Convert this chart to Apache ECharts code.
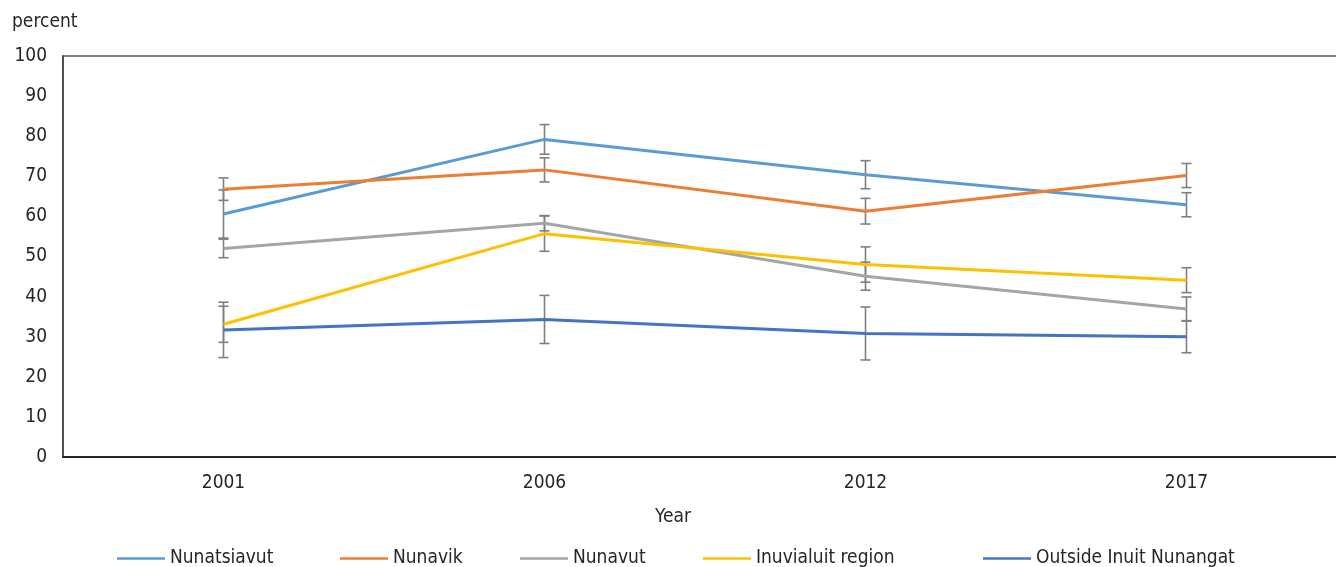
<!DOCTYPE html>
<html>
<head>
<meta charset="utf-8">
<script src="https://cdn.jsdelivr.net/npm/echarts@6/dist/echarts.min.js"></script>
<style>
  html, body { margin: 0; padding: 0; background: #fff; }
  #chart { width: 1336px; height: 567px; }
</style>
</head>
<body>
<div id="chart"></div>
<script>
// chart data
const years = ['2001', '2006', '2012', '2017']
const regionNames = ['Nunatsiavut', 'Nunavik', 'Nunavut', 'Inuvialuit region', 'Outside Inuit Nunangat']
const nunatsiavut = [60.6, 79.2, 70.4, 62.9]
const nunavik = [66.8, 71.6, 61.3, 70.2]
const nunavut = [52.0, 58.3, 45.1, 36.9]
const inuvialuit = [33.1, 55.7, 48.0, 44.1]
const outsideNunangat = [31.7, 34.3, 30.8, 30.0]
// half width of the error bars
const nunatsiavutErr = [6.0, 3.7, 3.5, 3.0]
const nunavikErr = [2.8, 3.0, 3.2, 3.0]
const nunavutErr = [2.3, 1.9, 3.5, 3.0]
const inuvialuitErr = [4.5, 4.4, 4.4, 3.1]
const outsideErr = [6.9, 6.0, 6.6, 4.0]

const colors = ['#5B9BD5', '#ED7D31', '#A5A5A5', '#FFC000', '#4472C4']
const values = [nunatsiavut, nunavik, nunavut, inuvialuit, outsideNunangat]
const errors = [nunatsiavutErr, nunavikErr, nunavutErr, inuvialuitErr, outsideErr]
const font = "'Liberation Sans Narrow', 'DejaVu Sans Condensed', sans-serif"
const textColor = '#262626'

let chartDom = document.getElementById('chart')
let myChart = echarts.init(chartDom)

function errorBar (params, api) {
  let x = api.value(0)
  let lo = api.coord([x, api.value(1)])
  let hi = api.coord([x, api.value(2)])
  let cap = 5
  let style = { stroke: '#7F7F7F', lineWidth: 1.6 }
  return {
    type: 'group',
    children: [
      { type: 'line', shape: { x1: lo[0], y1: lo[1], x2: hi[0], y2: hi[1] }, style: style },
      { type: 'line', shape: { x1: lo[0] - cap, y1: lo[1], x2: lo[0] + cap, y2: lo[1] }, style: style },
      { type: 'line', shape: { x1: hi[0] - cap, y1: hi[1], x2: hi[0] + cap, y2: hi[1] }, style: style }
    ]
  }
}

let series = []
regionNames.forEach(function (name, i) {
  series.push({
    name: name,
    type: 'line',
    data: values[i],
    symbol: 'none',
    lineStyle: { color: colors[i], width: 3 },
    itemStyle: { color: colors[i] },
    z: 3
  })
  series.push({
    name: name + ' error',
    type: 'custom',
    renderItem: errorBar,
    data: values[i].map(function (v, j) { return [j, v - errors[i][j], v + errors[i][j]] }),
    silent: true,
    z: 2
  })
})

const legendLeft = [117, 340, 520, 703, 983]
let legends = regionNames.map(function (name, i) {
  return {
    data: [name],
    left: legendLeft[i],
    top: 549,
    padding: 0,
    icon: 'rect',
    itemWidth: 48,
    itemHeight: 2.5,
    itemGap: 7,
    textStyle: { fontFamily: font, fontSize: 19, color: textColor },
    selectedMode: false
  }
})

let option = {
  animation: false,
  backgroundColor: '#fff',
  grid: {
    show: true,
    left: 63,
    top: 56,
    width: 1284,
    height: 401,
    outerBoundsMode: 'none',
    containLabel: false,
    borderColor: '#595959',
    borderWidth: 1.5
  },
  legend: legends,
  graphic: [
    { type: 'text', left: 12, top: 13, style: { text: 'percent', font: '19px ' + font, fill: textColor } },
    { type: 'text', left: 655, top: 508, style: { text: 'Year', font: '19px ' + font, fill: textColor } }
  ],
  xAxis: {
    type: 'category',
    data: years,
    boundaryGap: true,
    axisLine: { show: true, lineStyle: { color: '#262626', width: 2 } },
    axisTick: { show: false },
    axisLabel: { margin: 17, fontFamily: font, fontSize: 19, color: textColor },
    splitLine: { show: false }
  },
  yAxis: {
    type: 'value',
    min: 0,
    max: 100,
    interval: 10,
    axisLine: { show: true, lineStyle: { color: '#404040', width: 1.5 } },
    axisTick: { show: false },
    axisLabel: { margin: 16, fontFamily: font, fontSize: 19, color: textColor },
    splitLine: { show: false }
  },
  series: series
}

myChart.setOption(option)
</script>
</body>
</html>
